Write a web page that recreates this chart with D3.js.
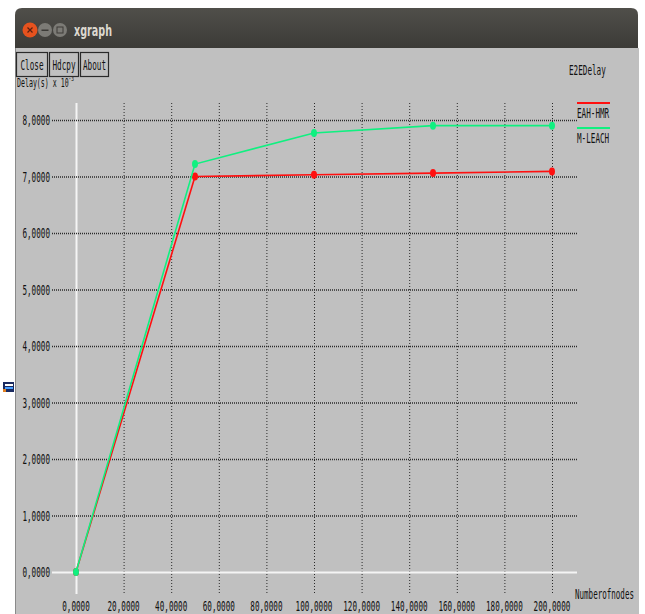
<!DOCTYPE html>
<html>
<head>
<meta charset="utf-8">
<script src="https://cdn.jsdelivr.net/npm/d3@7.9.0/dist/d3.min.js"></script>
<style>
  html, body { margin: 0; padding: 0; background: #fff; }
  svg { display: block; }
  text { font-family: "DejaVu Sans Mono", monospace; font-size: 14px; fill: #111; }
</style>
</head>
<body>
<div id="chart"></div>
<script>
// chart data
const nodes   = [0, 50, 100, 150, 200];
const eahHmr  = [0, 7.0, 7.03, 7.06, 7.09];
const mLeach  = [0, 7.22, 7.77, 7.9, 7.9];
const xTicks  = [0, 20, 40, 60, 80, 100, 120, 140, 160, 180, 200];
const yTicks  = [0, 1, 2, 3, 4, 5, 6, 7, 8];
const series  = [
  { name: 'EAH-HMR', values: eahHmr, color: '#ff1010' },
  { name: 'M-LEACH', values: mLeach, color: '#10f080' }
];
const buttons = ['Close', 'Hdcpy', 'About'];

const W = 645, H = 614;
const CH = 4.6; // width of one char of the xgraph font

const svg = d3.select('#chart').append('svg')
  .attr('width', W).attr('height', H);

// xgraph's font is tall and narrow: draw at 14px and squeeze sideways
function label(parent, px, py, str, anchor = 'start', width = str.length * CH) {
  const t = parent.append('text')
    .attr('text-anchor', anchor)
    .text(str);
  const natural = t.node().getComputedTextLength();
  t.attr('transform', `translate(${px},${py}) scale(${width / natural},1)`);
  return t;
}

// window frame
const grad = svg.append('defs').append('linearGradient')
  .attr('id', 'tb').attr('x1', 0).attr('y1', 0).attr('x2', 0).attr('y2', 1);
grad.append('stop').attr('offset', 0).attr('stop-color', '#504f4a');
grad.append('stop').attr('offset', 1).attr('stop-color', '#3c3b37');

svg.append('path')
  .attr('d', 'M15,48 L15,15 Q15,8 22,8 L631,8 Q638,8 638,15 L638,48 Z')
  .attr('fill', 'url(#tb)');
svg.append('rect').attr('x', 15).attr('y', 48).attr('width', 624).attr('height', H - 48)
  .attr('fill', '#c0c0c0');
svg.append('line').attr('x1', 15.5).attr('x2', 15.5).attr('y1', 48).attr('y2', H)
  .attr('stroke', '#8a8a8a');

svg.append('circle').attr('cx', 30).attr('cy', 30).attr('r', 7.5).attr('fill', '#e6521e');
svg.append('path').attr('d', 'M27.5,27.5 L32.5,32.5 M32.5,27.5 L27.5,32.5')
  .attr('stroke', '#5a2010').attr('stroke-width', 1.2);
svg.append('circle').attr('cx', 45).attr('cy', 30).attr('r', 7).attr('fill', '#7c7b76');
svg.append('rect').attr('x', 41.5).attr('y', 29.5).attr('width', 7).attr('height', 1.5).attr('fill', '#3c3b37');
svg.append('circle').attr('cx', 60).attr('cy', 30).attr('r', 7).attr('fill', '#7c7b76');
svg.append('rect').attr('x', 57).attr('y', 27).attr('width', 6).attr('height', 6)
  .attr('fill', 'none').attr('stroke', '#3c3b37');
svg.append('text').attr('x', 74).attr('y', 36)
  .style('font-family', '"DejaVu Sans", sans-serif').style('font-weight', 'bold')
  .style('font-size', '16px').style('fill', '#dcd8cf')
  .attr('textLength', 38).attr('lengthAdjust', 'spacingAndGlyphs').text('xgraph');

// plot area
const x = d3.scaleLinear().domain([0, 200]).range([76, 552]);
const y = d3.scaleLinear().domain([0, 8]).range([572, 120]);

const grid = svg.append('g');
grid.selectAll('line.v').data(xTicks).join('line')
  .attr('x1', d => x(d) + 0.5).attr('x2', d => x(d) + 0.5)
  .attr('y1', 103).attr('y2', 594)
  .attr('stroke', d => d === 0 ? '#f4f4f4' : '#2a2a2a')
  .attr('stroke-width', d => d === 0 ? 2 : 1)
  .attr('stroke-dasharray', d => d === 0 ? null : '1,2');
grid.selectAll('line.h').data(yTicks).join('line')
  .attr('x1', 52).attr('x2', 577)
  .attr('y1', d => y(d) + 0.5).attr('y2', d => y(d) + 0.5)
  .attr('stroke', d => d === 0 ? '#f4f4f4' : '#2a2a2a')
  .attr('stroke-width', d => d === 0 ? 2 : 1.5)
  .attr('stroke-dasharray', d => d === 0 ? null : '1,1');

const fmt = d => d3.format('.4f')(d).replace('.', ',');

const yLab = svg.append('g');
yTicks.forEach(d => label(yLab, 50, y(d) + 5, fmt(d), 'end'));

const xLab = svg.append('g');
xTicks.forEach(d => label(xLab, x(d), 611, fmt(d), 'middle'));

label(svg, 575, 599, 'Numberofnodes', 'start', 59);
label(svg, 569, 75, 'E2EDelay');

// series
const line = d3.line().x(d => x(d[0])).y(d => y(d[1])).curve(d3.curveLinear);
series.forEach(s => {
  const pts = nodes.map((n, i) => [n, s.values[i]]);
  svg.append('path').datum(pts)
    .attr('d', line).attr('fill', 'none')
    .attr('stroke', s.color).attr('stroke-width', 1.6);
  svg.append('g').selectAll('ellipse').data(pts).join('ellipse')
    .attr('cx', d => x(d[0])).attr('cy', d => y(d[1]))
    .attr('rx', 3).attr('ry', 4).attr('fill', s.color);
});

// legend
series.forEach((s, i) => {
  const ly = 103 + i * 25;
  svg.append('line').attr('x1', 577).attr('x2', 610).attr('y1', ly).attr('y2', ly)
    .attr('stroke', s.color).attr('stroke-width', 2);
  label(svg, 577, ly + 15, s.name);
});

// y title, its top is covered by the buttons
const yt = svg.append('text').style('font-size', '12px');
yt.append('tspan').text('Delay(s) x 10');
yt.append('tspan').attr('dy', -6).style('font-size', '8px').text('-3');
const ytw = yt.node().getComputedTextLength();
yt.attr('transform', `translate(17,87) scale(${57 / ytw},1)`);

// buttons
const bx = [16, 49, 80], bw = [31, 29, 28];
buttons.forEach((b, i) => {
  svg.append('rect').attr('x', bx[i] + 0.5).attr('y', 52.5).attr('width', bw[i]).attr('height', 24)
    .attr('fill', '#c0c0c0').attr('stroke', '#2a2a2a').attr('stroke-width', 1.2);
  label(svg, bx[i] + bw[i] / 2 + 0.5, 70, b, 'middle');
});

// small glitch icon in the left margin
const icon = svg.append('g').attr('transform', 'translate(3,382)');
icon.append('rect').attr('width', 11).attr('height', 10).attr('fill', '#1a2a60');
icon.append('rect').attr('x', 2).attr('y', 2).attr('width', 8).attr('height', 2).attr('fill', '#ffffff');
icon.append('rect').attr('x', 2).attr('y', 5).attr('width', 8).attr('height', 2).attr('fill', '#4aa0ff');
icon.append('rect').attr('x', 0).attr('y', 7).attr('width', 3).attr('height', 3).attr('fill', '#e08020');
</script>
</body>
</html>
